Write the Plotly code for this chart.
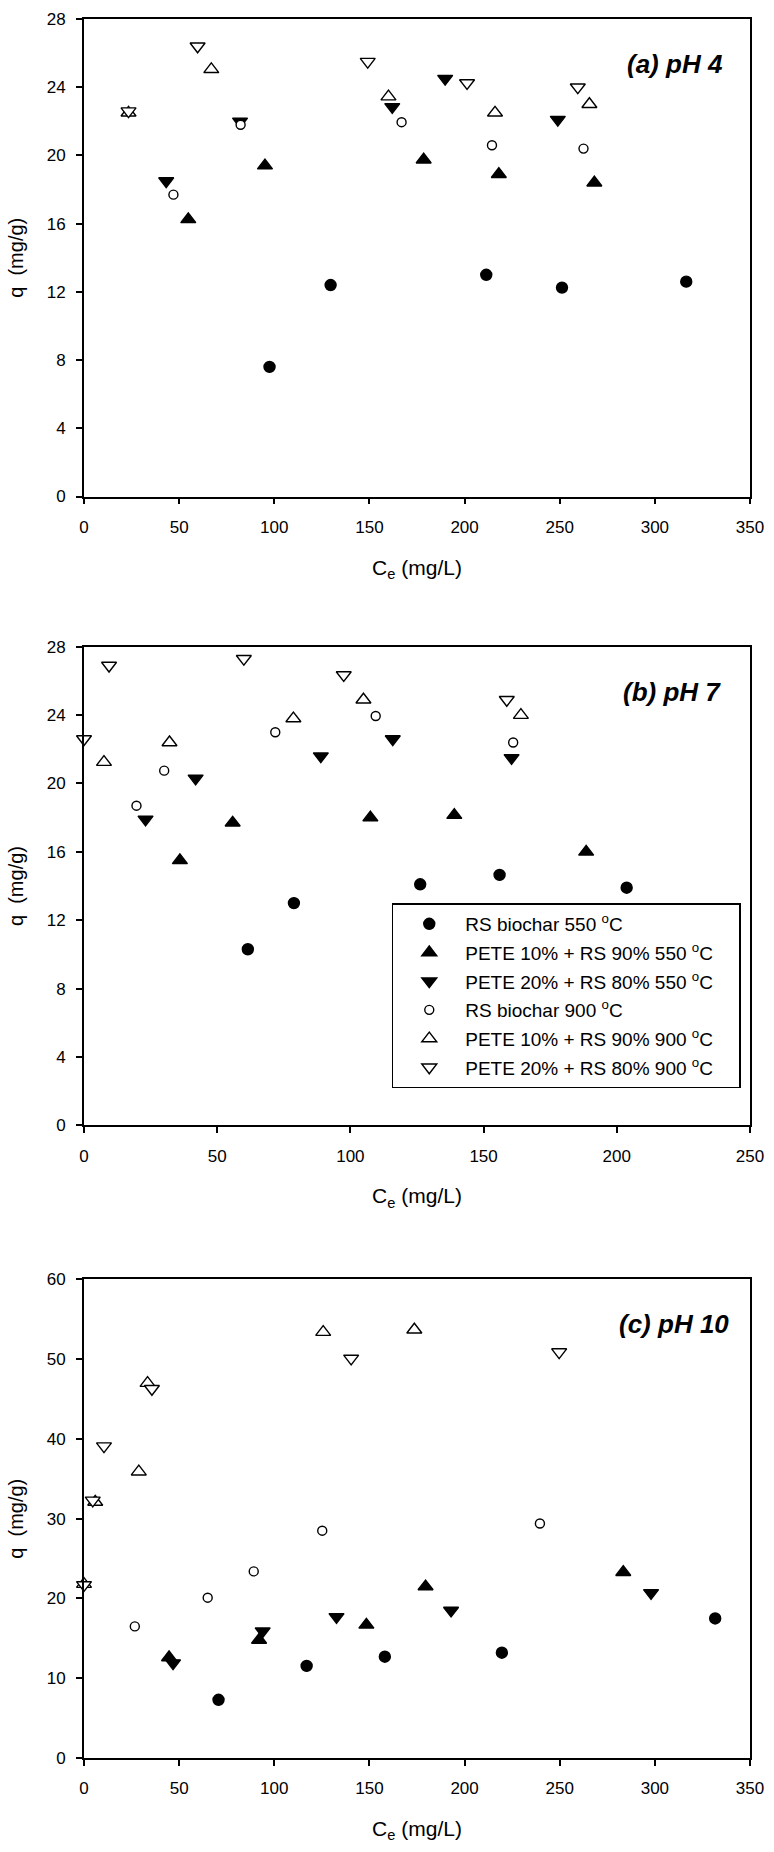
import plotly.graph_objects as go

# ---------------- data ----------------
series_names = [
    "RS biochar 550 <sup>o</sup>C",
    "PETE 10% + RS 90% 550 <sup>o</sup>C",
    "PETE 20% + RS 80% 550 <sup>o</sup>C",
    "RS biochar 900 <sup>o</sup>C",
    "PETE 10% + RS 90% 900 <sup>o</sup>C",
    "PETE 20% + RS 80% 900 <sup>o</sup>C",
]

# (a) pH 4
a_rs550_x = [97.5, 129.6, 211.4, 251.2, 316.5]
a_rs550_y = [7.6, 12.4, 13.0, 12.25, 12.6]
a_p10_550_x = [54.8, 95.1, 178.5, 218.0, 268.2]
a_p10_550_y = [16.25, 19.4, 19.75, 18.9, 18.4]
a_p20_550_x = [43.2, 82.0, 162.0, 189.8, 249.0]
a_p20_550_y = [18.5, 22.0, 22.85, 24.5, 22.1]
a_rs900_x = [47.0, 82.3, 166.9, 214.4, 262.5]
a_rs900_y = [17.7, 21.8, 21.95, 20.6, 20.4]
a_p10_900_x = [23.4, 66.9, 160.0, 216.0, 265.6]
a_p10_900_y = [22.5, 25.05, 23.45, 22.5, 23.0]
a_p20_900_x = [23.4, 59.7, 149.1, 201.3, 259.5]
a_p20_900_y = [22.6, 26.4, 25.5, 24.25, 24.0]

# (b) pH 7
b_rs550_x = [61.5, 78.8, 126.2, 156.0, 203.7]
b_rs550_y = [10.3, 13.0, 14.1, 14.65, 13.9]
b_p10_550_x = [36.0, 55.8, 107.5, 139.0, 188.5]
b_p10_550_y = [15.5, 17.7, 18.0, 18.15, 16.0]
b_p20_550_x = [23.1, 41.9, 88.9, 115.9, 160.5]
b_p20_550_y = [17.9, 20.3, 21.6, 22.6, 21.5]
b_rs900_x = [19.7, 30.1, 71.8, 109.5, 161.1]
b_rs900_y = [18.7, 20.75, 23.0, 23.95, 22.4]
b_p10_900_x = [7.5, 32.1, 78.6, 104.9, 164.0]
b_p10_900_y = [21.25, 22.4, 23.8, 24.9, 24.0]
b_p20_900_x = [0.0, 9.4, 60.0, 97.5, 158.7]
b_p20_900_y = [22.6, 26.9, 27.3, 26.35, 24.9]

# (c) pH 10
c_rs550_x = [70.7, 117.0, 158.1, 219.6, 331.7]
c_rs550_y = [7.3, 11.55, 12.7, 13.2, 17.5]
c_p10_550_x = [44.7, 92.0, 148.4, 179.5, 283.4]
c_p10_550_y = [12.6, 14.8, 16.7, 21.5, 23.3]
c_p20_550_x = [46.8, 93.9, 132.7, 192.9, 298.0]
c_p20_550_y = [11.9, 15.9, 17.7, 18.5, 20.7]
c_rs900_x = [26.7, 65.0, 89.2, 125.2, 239.6]
c_rs900_y = [16.5, 20.1, 23.4, 28.5, 29.4]
c_p10_900_x = [0.0, 5.9, 28.8, 33.4, 125.7, 173.6]
c_p10_900_y = [21.8, 32.1, 35.9, 47.0, 53.4, 53.7]
c_p20_900_x = [0.0, 4.6, 10.5, 35.7, 140.4, 249.7]
c_p20_900_y = [21.7, 32.3, 39.1, 46.3, 50.1, 50.9]

panel_labels = ["<b><i>(a) pH 4</i></b>", "<b><i>(b) pH 7</i></b>", "<b><i>(c) pH 10</i></b>"]
x_ranges = [[0, 350], [0, 250], [0, 350]]
y_ranges = [[0, 28], [0, 28], [0, 60]]
y_dticks = [4, 4, 10]

panels = [
    [(a_rs550_x, a_rs550_y), (a_p10_550_x, a_p10_550_y), (a_p20_550_x, a_p20_550_y),
     (a_rs900_x, a_rs900_y), (a_p10_900_x, a_p10_900_y), (a_p20_900_x, a_p20_900_y)],
    [(b_rs550_x, b_rs550_y), (b_p10_550_x, b_p10_550_y), (b_p20_550_x, b_p20_550_y),
     (b_rs900_x, b_rs900_y), (b_p10_900_x, b_p10_900_y), (b_p20_900_x, b_p20_900_y)],
    [(c_rs550_x, c_rs550_y), (c_p10_550_x, c_p10_550_y), (c_p20_550_x, c_p20_550_y),
     (c_rs900_x, c_rs900_y), (c_p10_900_x, c_p10_900_y), (c_p20_900_x, c_p20_900_y)],
]

# ---------------- styles ----------------
symbols = ["circle", "triangle-up", "triangle-down", "circle", "triangle-up", "triangle-down"]
fills = ["black", "black", "black", "white", "white", "white"]
sizes = [11, 13, 13, 9, 13, 13]
legend_pad = "\u00a0\u00a0\u00a0\u00a0"

W, H = 774, 1852
ML, MR, MT, MB = 84, 17, 10, 94
PH = H - MT - MB
y_px = [(10, 490), (641, 1122), (1277, 1758)]  # top, bottom in page px


def dom(top, bot):
    return [(H - MB - bot) / PH, (H - MB - top) / PH]


fig = go.Figure()
for p, data in enumerate(panels):
    xa = "x" if p == 0 else f"x{p+1}"
    ya = "y" if p == 0 else f"y{p+1}"
    for s, (xs, ys) in enumerate(data):
        fig.add_trace(go.Scatter(
            x=xs, y=ys, mode="markers", xaxis=xa, yaxis=ya,
            name=series_names[s] + legend_pad, legendgroup=f"g{s}", showlegend=(p == 1),
            cliponaxis=False, hoverinfo="x+y",
            marker=dict(symbol=symbols[s], size=sizes[s], color=fills[s],
                        line=dict(color="black", width=1.4)),
        ))

font_family = "Liberation Sans, Arial, sans-serif"
layout = dict(
    width=W, height=H,
    margin=dict(l=ML, r=MR, t=MT, b=MB),
    paper_bgcolor="white", plot_bgcolor="white",
    font=dict(family=font_family, color="black", size=17),
    legend=dict(
        x=(395 - ML) / (W - ML - MR), y=dom(899, 1097)[1],
        xanchor="left", yanchor="top",
        bordercolor="black", borderwidth=1.5, bgcolor="white",
        font=dict(size=19, family=font_family, color="black"),
        itemwidth=62, tracegroupgap=1, traceorder="grouped",
    ),
    annotations=[],
)

label_x = [732, 730, 738]
for p in range(3):
    xk = "xaxis" if p == 0 else f"xaxis{p+1}"
    yk = "yaxis" if p == 0 else f"yaxis{p+1}"
    xa = "x" if p == 0 else f"x{p+1}"
    ya = "y" if p == 0 else f"y{p+1}"
    layout[xk] = dict(
        domain=[0, 1], anchor=ya, range=x_ranges[p], dtick=50, tick0=0,
        showline=True, linecolor="black", linewidth=1.8, mirror=True,
        ticks="outside", ticklen=6, tickwidth=1.5, tickcolor="black",
        showgrid=False, zeroline=False,
        tickfont=dict(size=17), ticklabelstandoff=8,
        title=dict(text="C<sub>e</sub> (mg/L)", font=dict(size=21), standoff=24),
    )
    layout[yk] = dict(
        domain=dom(*y_px[p]), anchor=xa, range=y_ranges[p], dtick=y_dticks[p], tick0=0,
        showline=True, linecolor="black", linewidth=1.8, mirror=True,
        ticks="outside", ticklen=6, tickwidth=1.5, tickcolor="black",
        showgrid=False, zeroline=False,
        tickfont=dict(size=17), ticklabelstandoff=7,
        title=dict(text="q  (mg/g)", font=dict(size=20), standoff=18),
    )
    top, bot = y_px[p]
    layout["annotations"].append(dict(
        text=panel_labels[p], xref="paper", yref="paper",
        x=(label_x[p] - ML) / (W - ML - MR), y=(H - MB - (top + 45)) / PH,
        xanchor="right", yanchor="middle", showarrow=False,
        font=dict(size=26, family=font_family, color="black"),
    ))

fig.update_layout(**layout)
fig.write_html(
    "out.html",
    config={"displayModeBar": False},
    post_script="document.body.style.margin='0';document.body.style.padding='0';"
                "document.documentElement.style.overflow='hidden';",
)
